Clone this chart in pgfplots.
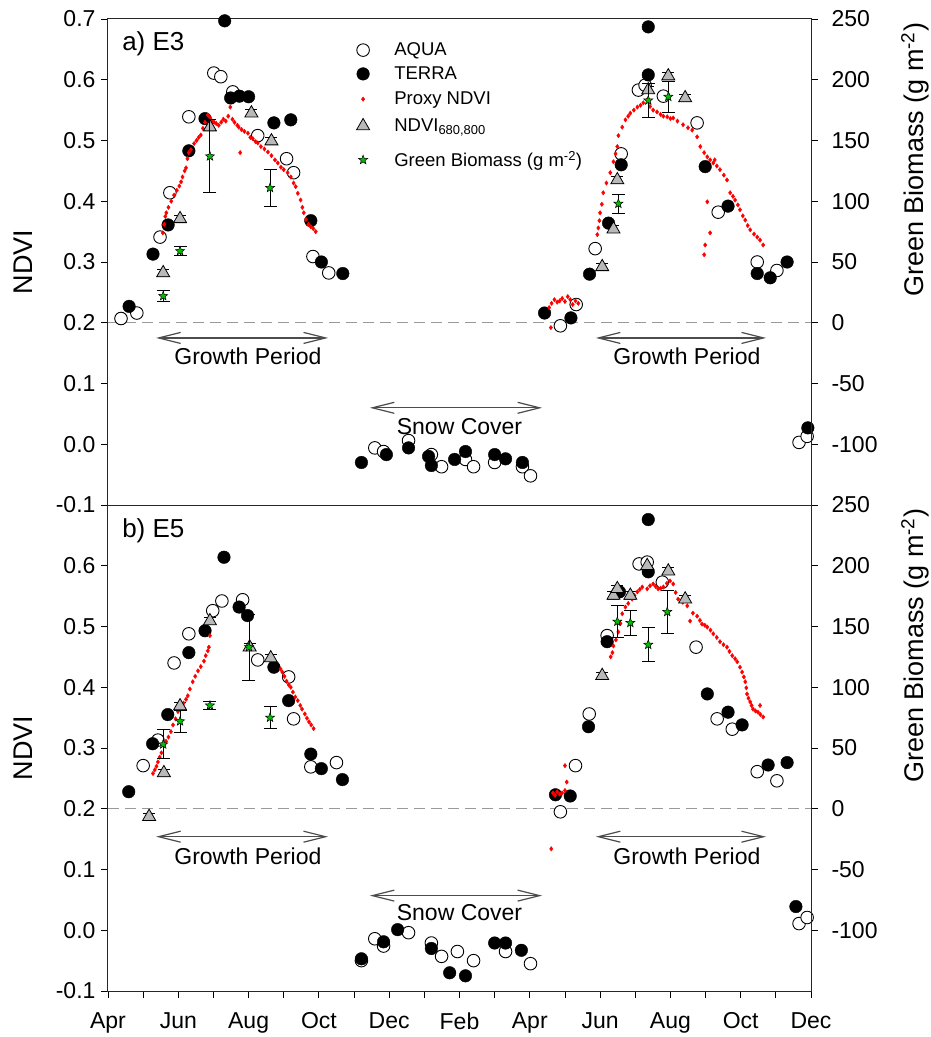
\documentclass[border=0pt]{standalone}
\usepackage{fontspec}
\setmainfont{Liberation Sans}
\usepackage{pgfplots}
\pgfplotsset{compat=1.18}
\usetikzlibrary{arrows.meta}

\pgfdeclareplotmark{fstar}{%
 \pgfpathmoveto{\pgfpointpolar{90}{\pgfplotmarksize}}%
 \pgfpathlineto{\pgfpointpolar{126}{0.42\pgfplotmarksize}}%
 \pgfpathlineto{\pgfpointpolar{162}{\pgfplotmarksize}}%
 \pgfpathlineto{\pgfpointpolar{198}{0.42\pgfplotmarksize}}%
 \pgfpathlineto{\pgfpointpolar{234}{\pgfplotmarksize}}%
 \pgfpathlineto{\pgfpointpolar{270}{0.42\pgfplotmarksize}}%
 \pgfpathlineto{\pgfpointpolar{306}{\pgfplotmarksize}}%
 \pgfpathlineto{\pgfpointpolar{342}{0.42\pgfplotmarksize}}%
 \pgfpathlineto{\pgfpointpolar{18}{\pgfplotmarksize}}%
 \pgfpathlineto{\pgfpointpolar{54}{0.42\pgfplotmarksize}}%
 \pgfpathclose
 \pgfusepathqfillstroke
}

\definecolor{gbgreen}{RGB}{0,190,0}
\definecolor{trigray}{RGB}{185,185,185}
\newcommand{\lgf}{\fontsize{18.5}{21}\selectfont}

\pgfplotsset{
  base/.style={scale only axis, width=703pt, height=486pt, xmin=0, xmax=20, clip=false,
    tick align=outside, major tick length=7pt, minor tick length=7pt,
    every tick/.style={black, line width=0.9pt},
    axis line style={black!85, line width=1pt},
    tick label style={font=\fontsize{23}{27}\selectfont},
    label style={font=\fontsize{27}{31}\selectfont}},
  leftax/.style={base, ymin=-0.1, ymax=0.7, ytick pos=left,
    ylabel={NDVI}, ylabel style={at={(axis description cs:-0.121,0.5)}, anchor=center},
    yticklabel style={xshift=-2pt}, xticklabel style={yshift=-11pt}},
  rightax/.style={base, ymin=-150, ymax=250, axis x line=none, axis y line*=right,
    ytick={-100,-50,0,50,100,150,200,250},
    yticklabels={-100,-50,0,50,100,150,200,250},
    yticklabel style={xshift=10pt},
    ylabel={Green Biomass (g m\textsuperscript{-2})},
    ylabel style={at={(axis description cs:1.148,0.71)}, anchor=center}},
  lg/.style={base, at={(0,0)}, anchor=south west, hide axis, ymin=0, ymax=1,
    legend image code/.code={\path (0pt,0pt) (38pt,0pt); \draw[##1] plot coordinates {(9pt,0pt)};},
    legend style={at={(axis description cs:0.3495,#1)}, anchor=west, draw=none, fill=none,
      inner sep=0pt, font=\lgf}},
  aqua/.style={only marks, mark=*, mark size=6.3pt, mark options={draw=black, fill=white, line width=0.9pt}},
  terra/.style={only marks, mark=*, mark size=6.3pt, mark options={draw=black, fill=black}},
  proxy/.style={only marks, red, mark=diamond*, mark size=2.2pt, mark options={draw=red, fill=red}},
  tri/.style={only marks, black, mark=triangle*, mark size=7.5pt, mark options={draw=black, fill=trigray, line width=0.8pt},
    error bars/.cd, y dir=both, y explicit, error bar style={black, line width=0.9pt},
    error mark options={rotate=90, mark size=6pt, line width=0.9pt, black}},
  gb/.style={only marks, black, mark=fstar, mark size=4.8pt, mark options={draw=black, fill=gbgreen, line width=0.5pt},
    error bars/.cd, y dir=both, y explicit, error bar style={black, line width=0.9pt},
    error mark options={rotate=90, mark size=6.5pt, line width=0.9pt, black}},
}

\begin{document}
\begin{tikzpicture}
% ================= TOP PANEL (E3) =================
\begin{axis}[leftax, at={(0,0)}, anchor=south west, xtick=\empty,
  ytick={-0.1,0,0.1,0.2,0.3,0.4,0.5,0.6,0.7},
  yticklabels={-0.1,0.0,0.1,0.2,0.3,0.4,0.5,0.6,0.7}]
\draw[dash pattern=on 11pt off 6pt, black!40, line width=1pt] (axis cs:0,0.2) -- (axis cs:20,0.2);
\addplot[aqua] coordinates {
(0.37,0.207)(0.82,0.216)(1.48,0.341)(1.76,0.414)(2.30,0.539)(3.01,0.611)(3.21,0.605)(3.55,0.580)
(4.26,0.508)(5.08,0.470)(5.28,0.447)(5.83,0.309)(6.28,0.282)
(7.59,-0.006)(7.84,-0.012)(8.55,0.006)(9.20,-0.017)(9.49,-0.037)(10.17,-0.025)(10.40,-0.037)
(11.00,-0.030)(11.79,-0.037)(12.02,-0.052)
(12.87,0.195)(13.32,0.230)(13.86,0.322)(14.60,0.478)(15.09,0.583)(15.28,0.591)(15.80,0.573)
(16.76,0.529)(17.36,0.382)(18.47,0.300)(19.03,0.286)(19.66,0.003)(19.89,0.013)};
\addplot[terra] coordinates {
(0.60,0.227)(1.28,0.313)(1.71,0.361)(2.30,0.483)(2.76,0.536)(3.32,0.697)(3.49,0.570)(3.74,0.573)
(4.00,0.572)(4.72,0.529)(5.20,0.534)(5.77,0.368)(6.07,0.300)(6.68,0.281)
(7.21,-0.030)(7.92,-0.017)(8.55,-0.006)(9.12,-0.020)(9.20,-0.035)(9.86,-0.025)(10.17,-0.012)
(11.00,-0.017)(11.31,-0.024)(11.79,-0.030)
(12.42,0.216)(13.17,0.208)(13.70,0.280)(14.24,0.364)(14.60,0.460)(15.37,0.687)(15.37,0.608)
(16.99,0.457)(17.64,0.392)(18.47,0.281)(18.84,0.274)(19.32,0.300)(19.91,0.027)};
\addplot[proxy] coordinates {
(1.56,0.348)(1.60,0.362)(1.63,0.375)(1.66,0.381)(1.72,0.390)(1.80,0.400)(1.88,0.410)(1.96,0.418)
(2.03,0.425)(2.08,0.432)(2.12,0.440)(2.18,0.450)(2.22,0.455)(2.26,0.470)(2.30,0.480)(2.36,0.485)
(2.45,0.495)(2.52,0.500)(2.58,0.505)(2.64,0.509)(2.70,0.520)(2.76,0.530)(2.84,0.542)(2.90,0.538)
(2.96,0.532)(3.02,0.530)(3.08,0.528)(3.15,0.525)(3.22,0.530)(3.28,0.535)(3.35,0.532)(3.42,0.540)
(3.48,0.555)(3.54,0.535)(3.60,0.530)(3.68,0.525)(3.72,0.522)(3.76,0.480)(3.80,0.518)(3.88,0.515)
(3.98,0.512)(4.05,0.505)(4.12,0.503)(4.20,0.498)(4.26,0.496)(4.35,0.490)(4.45,0.486)(4.55,0.481)
(4.65,0.475)(4.75,0.468)(4.83,0.463)(4.92,0.456)(5.00,0.452)(5.11,0.447)(5.20,0.440)(5.28,0.430)
(5.34,0.424)(5.40,0.413)(5.48,0.402)(5.53,0.390)(5.57,0.381)(5.63,0.370)(5.70,0.362)(5.77,0.358)
(5.84,0.355)(5.91,0.350)
(12.55,0.225)(12.60,0.192)(12.62,0.232)(12.70,0.238)(12.78,0.234)(12.85,0.236)(12.92,0.240)
(13.00,0.235)(13.08,0.243)(13.15,0.238)(13.22,0.230)(13.30,0.236)(13.38,0.232)
(13.92,0.345)(13.95,0.356)(13.98,0.368)(14.00,0.381)(14.05,0.395)(14.09,0.414)(14.18,0.430)
(14.29,0.447)(14.38,0.465)(14.44,0.478)(14.49,0.490)(14.52,0.508)(14.63,0.522)(14.72,0.534)
(14.80,0.540)(14.86,0.545)(14.96,0.550)(15.06,0.555)(15.15,0.558)(15.23,0.562)(15.34,0.567)
(15.42,0.556)(15.51,0.550)(15.62,0.547)(15.72,0.543)(15.80,0.540)(15.91,0.539)(16.00,0.536)
(16.08,0.537)(16.20,0.532)(16.36,0.526)(16.50,0.521)(16.62,0.517)(16.76,0.506)(16.85,0.490)
(16.96,0.480)(17.05,0.473)(17.13,0.468)(17.22,0.463)(17.32,0.458)(17.41,0.452)(17.52,0.443)
(17.61,0.435)(17.70,0.414)(17.78,0.408)(17.84,0.402)(17.92,0.394)(17.98,0.386)(18.06,0.376)
(18.13,0.369)(18.20,0.360)(18.27,0.353)(18.38,0.346)(18.47,0.341)(18.55,0.336)(18.64,0.328)
(17.05,0.399)(17.13,0.348)(16.99,0.328)(16.96,0.312)(17.26,0.468)};
\addplot[tri] coordinates {
(1.57,0.282) +- (0,0.006) (2.05,0.371) +- (0,0.006) (2.90,0.522) +- (0,0.006)
(4.08,0.545) +- (0,0.006) (4.65,0.499) +- (0,0.006)
(14.06,0.292) +- (0,0.006) (14.38,0.354) +- (0,0.006) (14.49,0.435) +- (0,0.006)
(15.37,0.583) +- (0,0.006) (15.94,0.606) +- (0,0.006) (16.42,0.570) +- (0,0.006)};
\node[anchor=west, inner sep=0pt, font=\fontsize{26}{30}\selectfont] at (axis cs:0.40,0.659) {a) E3};
\draw[{Straight Barb[length=22pt,width=11pt]}-{Straight Barb[length=22pt,width=11pt]}, black!70, line width=1.2pt]
  (axis cs:1.37,0.175) -- (axis cs:6.26,0.175);
\draw[{Straight Barb[length=22pt,width=11pt]}-{Straight Barb[length=22pt,width=11pt]}, black!70, line width=1.2pt]
  (axis cs:13.88,0.175) -- (axis cs:18.72,0.175);
\draw[{Straight Barb[length=22pt,width=11pt]}-{Straight Barb[length=22pt,width=11pt]}, black!70, line width=1.2pt]
  (axis cs:7.45,0.060) -- (axis cs:12.35,0.060);
\node[font=\fontsize{23}{27}\selectfont] at (axis cs:3.98,0.144) {Growth Period};
\node[font=\fontsize{23}{27}\selectfont] at (axis cs:16.47,0.144) {Growth Period};
\node[font=\fontsize{23}{27}\selectfont] at (axis cs:10.0,0.029) {Snow Cover};
\end{axis}
\begin{axis}[rightax, at={(0,0)}, anchor=south west]
\addplot[gb] coordinates {
(1.57,22) +- (0,4.5) (2.05,59) +- (0,4) (2.90,137) +- (0,30) (4.61,111) +- (0,15)
(14.52,98) +- (0,8) (15.37,183) +- (0,14) (15.94,186) +- (0,13)};
\end{axis}
% ---- legend rows (one hidden axis per row, for exact spacing) ----
\begin{axis}[lg=0.936]
\addlegendimage{aqua}\addlegendentry{AQUA}
\end{axis}
\begin{axis}[lg=0.887]
\addlegendimage{terra}\addlegendentry{TERRA}
\end{axis}
\begin{axis}[lg=0.835]
\addlegendimage{proxy}\addlegendentry{Proxy NDVI}
\end{axis}
\begin{axis}[lg=0.780]
\addlegendimage{only marks, mark=triangle*, mark size=7.5pt, mark options={draw=black, fill=trigray, line width=0.8pt}}
\addlegendentry{NDVI\textsubscript{680,800}}
\end{axis}
\begin{axis}[lg=0.710]
\addlegendimage{only marks, mark=fstar, mark size=4.8pt, mark options={draw=black, fill=gbgreen, line width=0.5pt}}
\addlegendentry{Green Biomass (g m\textsuperscript{-2})}
\end{axis}

% ================= BOTTOM PANEL (E5) =================
\begin{axis}[leftax, at={(0,0)}, anchor=north west,
  xtick={0,2,4,6,8,10,12,14,16,18,20},
  xticklabels={Apr,Jun,Aug,Oct,Dec,Feb,Apr,Jun,Aug,Oct,Dec},
  minor xtick={1,3,5,7,9,11,13,15,17,19}, xtick pos=bottom,
  ytick={-0.1,0,0.1,0.2,0.3,0.4,0.5,0.6},
  yticklabels={-0.1,0.0,0.1,0.2,0.3,0.4,0.5,0.6}]
\draw[dash pattern=on 11pt off 6pt, black!40, line width=1pt] (axis cs:0,0.2) -- (axis cs:20,0.2);
\addplot[aqua] coordinates {
(1.00,0.271)(1.42,0.313)(1.88,0.440)(2.30,0.488)(2.98,0.526)(3.24,0.542)(3.83,0.544)(4.26,0.445)
(5.14,0.417)(5.28,0.348)(5.77,0.269)(6.50,0.276)
(7.21,-0.050)(7.59,-0.014)(7.84,-0.026)(8.55,-0.004)(9.20,-0.021)(9.49,-0.043)(9.94,-0.035)
(10.40,-0.050)(11.31,-0.035)(12.02,-0.055)
(12.87,0.195)(13.30,0.271)(13.69,0.356)(14.20,0.485)(15.11,0.603)(15.34,0.606)(15.77,0.573)
(16.73,0.466)(17.33,0.348)(17.76,0.331)(18.47,0.261)(19.03,0.246)(19.66,0.011)(19.89,0.021)};
\addplot[terra] coordinates {
(0.59,0.228)(1.27,0.307)(1.70,0.355)(2.30,0.457)(2.76,0.493)(3.30,0.614)(3.73,0.532)(3.97,0.518)
(4.72,0.433)(5.14,0.378)(5.77,0.290)(6.07,0.266)(6.67,0.248)
(7.21,-0.047)(7.84,-0.019)(8.24,0.001)(9.20,-0.030)(9.72,-0.070)(10.17,-0.075)(11.00,-0.021)
(11.31,-0.021)(11.76,-0.033)
(12.73,0.223)(13.15,0.221)(13.67,0.335)(14.20,0.475)(14.55,0.557)(15.37,0.676)(15.37,0.590)
(17.05,0.389)(17.64,0.359)(18.04,0.338)(18.78,0.272)(19.32,0.276)(19.57,0.039)};
\addplot[proxy] coordinates {
(1.28,0.258)(1.33,0.264)(1.38,0.270)(1.42,0.277)(1.47,0.285)(1.52,0.292)(1.59,0.304)(1.65,0.311)
(1.72,0.318)(1.79,0.327)(1.85,0.338)(1.92,0.348)(1.99,0.360)(2.07,0.366)(2.15,0.374)(2.22,0.380)
(2.27,0.386)(2.33,0.397)(2.41,0.409)(2.48,0.418)(2.56,0.427)(2.64,0.434)(2.73,0.443)(2.78,0.452)
(2.84,0.460)(2.87,0.466)(2.90,0.485)
(4.91,0.430)(4.96,0.425)(5.02,0.418)(5.08,0.410)(5.14,0.404)(5.20,0.400)(5.26,0.392)(5.33,0.384)
(5.40,0.378)(5.47,0.370)(5.52,0.364)(5.60,0.356)(5.66,0.349)(5.72,0.343)(5.78,0.338)(5.85,0.332)
(12.61,0.134)(12.66,0.226)(12.72,0.222)(12.78,0.228)(12.85,0.224)(12.92,0.226)(13.00,0.230)
(13.05,0.244)(13.00,0.271)
(14.30,0.450)(14.35,0.457)(14.38,0.468)(14.45,0.478)(14.52,0.491)(14.58,0.505)(14.63,0.521)
(14.72,0.532)(14.80,0.538)(14.91,0.545)(14.98,0.551)(15.06,0.557)(15.13,0.561)(15.20,0.565)
(15.34,0.562)(15.42,0.567)(15.51,0.570)(15.58,0.566)(15.65,0.562)(15.72,0.563)(15.80,0.565)
(15.90,0.571)(15.99,0.575)(16.08,0.570)(16.15,0.556)(16.22,0.545)(16.35,0.540)(16.48,0.534)
(16.56,0.509)(16.64,0.522)(16.76,0.517)(16.84,0.510)(16.90,0.504)(16.98,0.502)(17.05,0.499)
(17.14,0.494)(17.22,0.488)(17.32,0.482)(17.41,0.475)(17.51,0.470)(17.61,0.466)(17.68,0.459)
(17.76,0.452)(17.84,0.447)(17.90,0.442)(17.98,0.433)(18.04,0.425)(18.09,0.417)(18.13,0.409)
(18.16,0.399)(18.18,0.389)(18.22,0.382)(18.27,0.376)(18.31,0.370)(18.35,0.364)(18.42,0.361)
(18.49,0.359)(18.56,0.355)(18.64,0.351)(18.55,0.370)};
\addplot[tri] coordinates {
(1.17,0.187) +- (0,0.006) (1.59,0.259) +- (0,0.006) (2.05,0.369) +- (0,0.006)
(2.90,0.509) +- (0,0.006) (4.03,0.466) +- (0,0.006) (4.63,0.448) +- (0,0.006)
(14.06,0.419) +- (0,0.006) (14.38,0.551) +- (0,0.006) (14.49,0.562) +- (0,0.006)
(14.86,0.551) +- (0,0.006) (15.34,0.600) +- (0,0.006) (15.94,0.591) +- (0,0.006)
(16.42,0.545) +- (0,0.006)};
\node[anchor=west, inner sep=0pt, font=\fontsize{26}{30}\selectfont] at (axis cs:0.40,0.657) {b) E5};
\draw[{Straight Barb[length=22pt,width=11pt]}-{Straight Barb[length=22pt,width=11pt]}, black!70, line width=1.2pt]
  (axis cs:1.37,0.154) -- (axis cs:6.26,0.154);
\draw[{Straight Barb[length=22pt,width=11pt]}-{Straight Barb[length=22pt,width=11pt]}, black!70, line width=1.2pt]
  (axis cs:13.88,0.154) -- (axis cs:18.72,0.154);
\draw[{Straight Barb[length=22pt,width=11pt]}-{Straight Barb[length=22pt,width=11pt]}, black!70, line width=1.2pt]
  (axis cs:7.45,0.057) -- (axis cs:12.35,0.057);
\node[font=\fontsize{23}{27}\selectfont] at (axis cs:3.98,0.122) {Growth Period};
\node[font=\fontsize{23}{27}\selectfont] at (axis cs:16.47,0.122) {Growth Period};
\node[font=\fontsize{23}{27}\selectfont] at (axis cs:10.0,0.029) {Snow Cover};
\end{axis}
\begin{axis}[rightax, at={(0,0)}, anchor=north west]
\addplot[gb] coordinates {
(1.57,53) +- (0,12) (2.05,72) +- (0,9) (2.90,85) +- (0,3) (4.01,133) +- (0,27) (4.61,75) +- (0,9)
(14.49,154) +- (0,13) (14.86,153) +- (0,10) (15.37,135) +- (0,14) (15.91,162) +- (0,18)};
\end{axis}

\pgfresetboundingbox
\path (-108pt,-532pt) rectangle (822pt,505pt);
\end{tikzpicture}
\end{document}
